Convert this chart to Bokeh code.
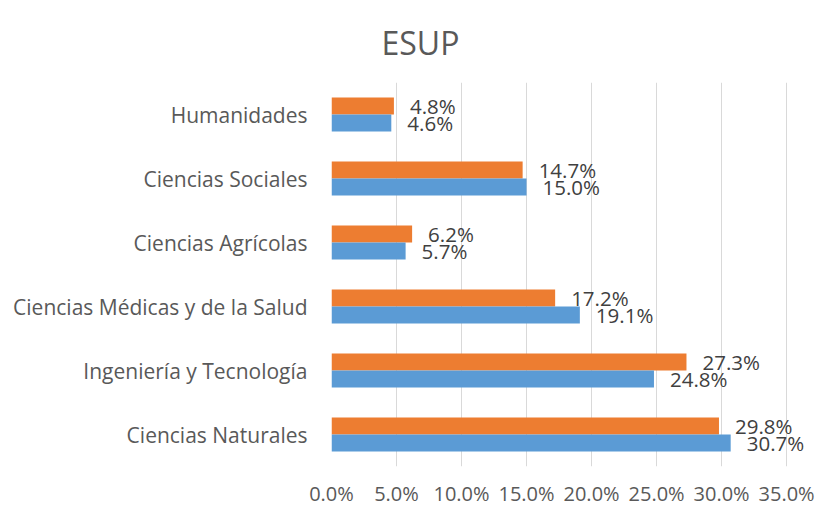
from bokeh.plotting import figure
from bokeh.models import ColumnDataSource, FactorRange, FixedTicker
from bokeh.transform import dodge
from bokeh.embed import file_html
from bokeh.resources import INLINE
from bokeh.core.properties import value

categories = ["Ciencias Naturales", "Ingeniería y Tecnología", "Ciencias Médicas y de la Salud",
              "Ciencias Agrícolas", "Ciencias Sociales", "Humanidades"]
blue_vals = [30.7, 24.8, 19.1, 5.7, 15.0, 4.6]
orange_vals = [29.8, 27.3, 17.2, 6.2, 14.7, 4.8]
x_ticks = [0, 5, 10, 15, 20, 25, 30, 35]
title_text = "ESUP"

FONT = "Open Sans"
src = ColumnDataSource(dict(
    cat=categories, blue=blue_vals, orange=orange_vals,
    blue_lbl=[f"{v:.1f}%" for v in blue_vals],
    orange_lbl=[f"{v:.1f}%" for v in orange_vals],
))

p = figure(width=817, height=509, y_range=FactorRange(*categories, range_padding=0), x_range=(0, 37.3),
           output_backend="svg", toolbar_location=None,
           min_border_left=331, min_border_right=1, min_border_top=82, min_border_bottom=41)
p.outline_line_color = None
p.background_fill_color = "white"
p.border_fill_color = "white"

p.hbar(y=dodge("cat", 0.132, range=p.y_range), right="orange", height=0.264, left=0,
       source=src, fill_color="#ED7D31", line_color=None)
p.hbar(y=dodge("cat", -0.132, range=p.y_range), right="blue", height=0.264, left=0,
       source=src, fill_color="#5B9BD5", line_color=None)

p.text(x="orange", y=dodge("cat", 0.132, range=p.y_range), text="orange_lbl", source=src,
       x_offset=16, text_align="left", text_baseline="middle",
       text_font=value(FONT), text_font_size="20.5px", text_color="#404040")
p.text(x="blue", y=dodge("cat", -0.132, range=p.y_range), text="blue_lbl", source=src,
       x_offset=16, text_align="left", text_baseline="middle",
       text_font=value(FONT), text_font_size="20.5px", text_color="#404040")

p.xaxis.ticker = FixedTicker(ticks=x_ticks)
p.xaxis.major_label_overrides = {t: f"{t:.1f}%" for t in x_ticks}
p.xaxis.axis_line_color = None
p.xaxis.major_tick_line_color = None
p.xaxis.major_tick_out = 0
p.xaxis.major_tick_in = 0
p.xaxis.minor_tick_line_color = None
p.xaxis.major_label_standoff = 13
p.xaxis.major_label_text_font = FONT
p.xaxis.major_label_text_font_size = "20px"
p.xaxis.major_label_text_color = "#595959"

p.yaxis.axis_line_color = None
p.yaxis.major_tick_line_color = None
p.yaxis.major_tick_out = 0
p.yaxis.major_tick_in = 0
p.yaxis.major_label_standoff = 24
p.yaxis.major_label_text_font = FONT
p.yaxis.major_label_text_font_size = "21px"
p.yaxis.major_label_text_color = "#595959"

p.ygrid.grid_line_color = None
p.xgrid.grid_line_color = "#D9D9D9"
p.xgrid.grid_line_width = 1

p.title.text = title_text
p.title.align = "left"
p.title.vertical_align = "top"
p.title.offset = 50
p.title.standoff = 34
p.title.text_font = FONT
p.title.text_font_size = "32px"
p.title.text_font_style = "normal"
p.title.text_color = "#595959"

open("out.html", "w").write(file_html(p, INLINE))
